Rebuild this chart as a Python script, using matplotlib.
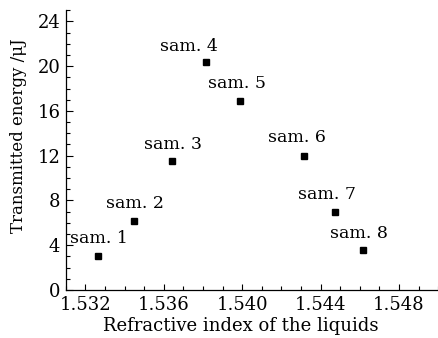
import matplotlib
matplotlib.use("Agg")
import matplotlib.pyplot as plt
from matplotlib.ticker import MultipleLocator

plt.rcParams["font.family"] = ["DejaVu Serif"]
plt.rcParams["mathtext.fontset"] = "dejavuserif"

# data
samples = ["sam. 1", "sam. 2", "sam. 3", "sam. 4", "sam. 5", "sam. 6", "sam. 7", "sam. 8"]
refr_index = [1.53264, 1.53449, 1.53642, 1.53817, 1.53989, 1.54318, 1.54473, 1.54615]
energy = [3.0, 6.2, 11.5, 20.4, 16.9, 12.0, 7.0, 3.6]

# label offsets in pixels (dx, dy) relative to the point
label_offsets = [(1, 18), (1, 17), (1, 17), (-17, 15), (-3, 17), (-8, 18), (-8, 17), (-4, 16)]

fig = plt.figure(figsize=(4.39, 3.38), dpi=100)
ax = fig.add_axes([0.150, 0.142, 0.848, 0.828])

ax.plot(refr_index, energy, linestyle="none", marker="s", markersize=4.2,
        color="black")
for name, x, y, (dx, dy) in zip(samples, refr_index, energy, label_offsets):
    ax.annotate(name, (x, y), xytext=(dx, dy), textcoords="offset pixels",
                ha="center", va="center", fontsize=12.5)

ax.set_xlim(1.531, 1.550)
ax.set_ylim(0, 25)
ax.xaxis.set_major_locator(MultipleLocator(0.004))
ax.xaxis.set_minor_locator(MultipleLocator(0.001))
ax.yaxis.set_major_locator(MultipleLocator(4))
ax.yaxis.set_minor_locator(MultipleLocator(1))
ax.xaxis.set_major_formatter(plt.FormatStrFormatter("%.3f"))

for side in ("top", "right"):
    ax.spines[side].set_visible(False)
for side in ("left", "bottom"):
    ax.spines[side].set_linewidth(0.9)

ax.tick_params(which="both", direction="in", labelsize=13, width=0.8)
ax.tick_params(which="major", length=5, pad=4)
ax.tick_params(which="minor", length=3)
ax.tick_params(axis="x", which="major", length=4)

ax.set_xlabel("Refractive index of the liquids", fontsize=13)
ax.set_ylabel("Transmitted energy /μJ", fontsize=12)
ax.xaxis.set_label_coords(0.47, -0.098)
ax.yaxis.set_label_coords(-0.104, 0.55)

fig.savefig("out.png", dpi=100)
